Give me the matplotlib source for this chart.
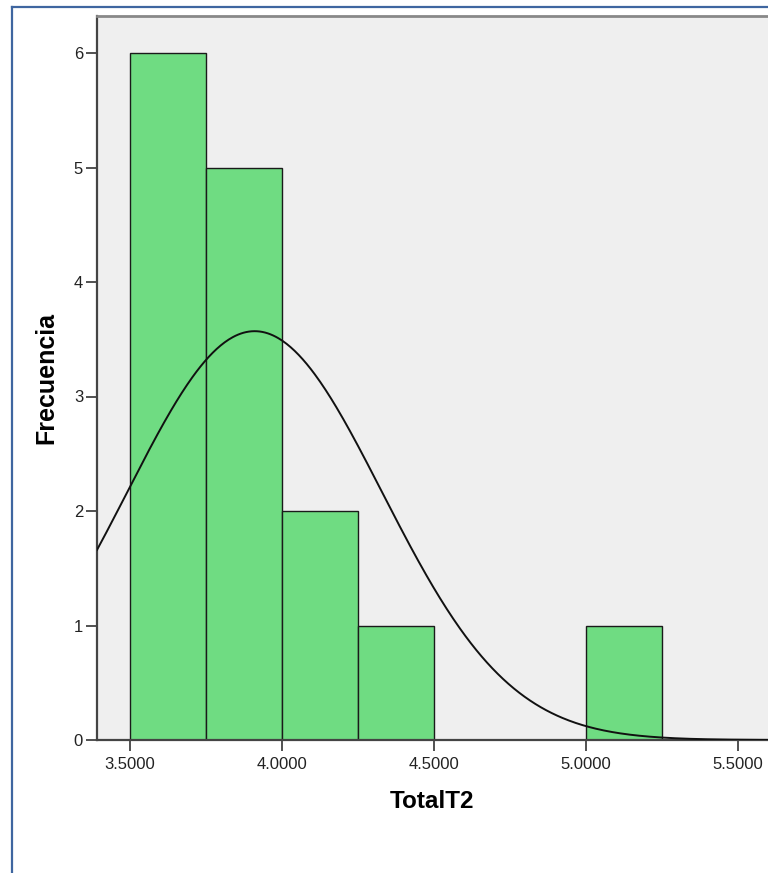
import numpy as np
import matplotlib
matplotlib.use("Agg")
import matplotlib.pyplot as plt
from matplotlib.lines import Line2D

# Data
bin_edges = [3.50, 3.75, 4.00, 4.25, 4.50, 4.75, 5.00, 5.25]
counts = [6, 5, 2, 1, 0, 0, 1]
n_total = 15
curve_mean = 3.91
curve_sd = 0.419
x_ticks = [3.5, 4.0, 4.5, 5.0, 5.5]
x_tick_labels = ["3.5000", "4.0000", "4.5000", "5.0000", "5.5000"]
y_ticks = [0, 1, 2, 3, 4, 5, 6]
x_label = "TotalT2"
y_label = "Frecuencia"

plt.rcParams['font.family'] = ['Liberation Sans', 'DejaVu Sans']

W, H = 768, 873
fig = plt.figure(figsize=(W / 100, H / 100), dpi=100)
fig.patch.set_facecolor("white")

# outer blue frame (left and top)
frame_col = "#3f66a0"
fig.add_artist(Line2D([11.5 / W, 11.5 / W], [0, 1 - 6.5 / H], color=frame_col, lw=1.6,
                      transform=fig.transFigure))
fig.add_artist(Line2D([11.5 / W, 1], [1 - 6.5 / H, 1 - 6.5 / H], color=frame_col, lw=1.6,
                      transform=fig.transFigure))

left_px, right_px, top_px, bottom_px = 97, 768, 16, 740
ax = fig.add_axes([left_px / W, 1 - bottom_px / H, (right_px - left_px) / W,
                   (bottom_px - top_px) / H])
ax.set_facecolor("#efefef")

x0 = 3.5 - 33 / 304
x1 = 3.5 + (right_px - 130) / 304
ax.set_xlim(x0, x1)
ax.set_ylim(0, (bottom_px - top_px) / 114.5)

widths = np.diff(bin_edges)
ax.bar(bin_edges[:-1], counts, width=widths, align="edge", color="#6fdc82",
       edgecolor="#1a1a1a", linewidth=1.0, zorder=2)

xs = np.linspace(x0, x1, 500)
binw = bin_edges[1] - bin_edges[0]
ys = n_total * binw / (curve_sd * np.sqrt(2 * np.pi)) * np.exp(-0.5 * ((xs - curve_mean) / curve_sd) ** 2)
ax.plot(xs, ys, color="#111111", lw=1.4, zorder=3)

ax.set_xticks(x_ticks)
ax.set_xticklabels(x_tick_labels)
ax.set_yticks(y_ticks)
ax.tick_params(axis="both", direction="out", length=8, width=1.2, color="#333333",
               labelsize=12, labelcolor="#222222")
ax.tick_params(axis="x", pad=4)
ax.tick_params(axis="y", pad=2)

for s in ["left", "bottom"]:
    ax.spines[s].set_color("#444444")
    ax.spines[s].set_linewidth(1.6)
ax.spines["top"].set_color("#888888")
ax.spines["top"].set_linewidth(2.0)
ax.spines["right"].set_visible(False)

ax.set_xlabel(x_label, fontsize=17.5, fontweight="bold", labelpad=13)
ax.set_ylabel(y_label, fontsize=18, fontweight="bold", labelpad=11)

fig.savefig("out.png", dpi=100)
